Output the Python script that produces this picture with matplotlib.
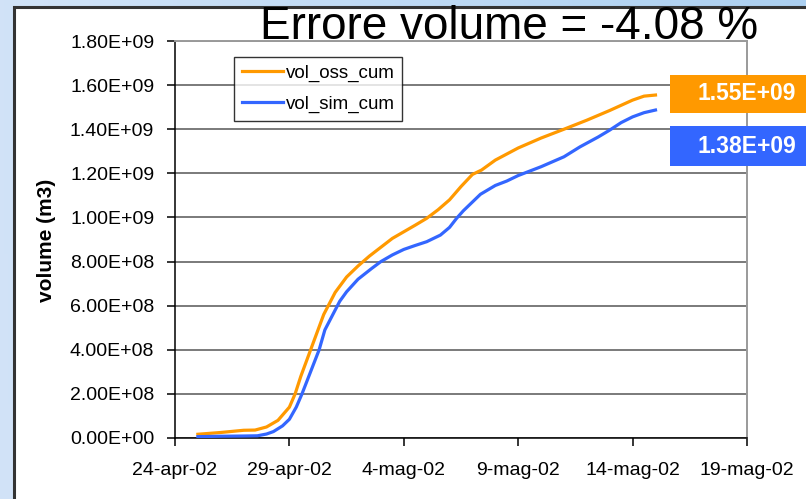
"""Cumulative observed vs simulated volume, with volume error in the title."""

import matplotlib
matplotlib.use("Agg")
import matplotlib.pyplot as plt
import numpy as np
import pandas as pd
from matplotlib.patches import Rectangle

plt.rcParams["font.family"] = ["Liberation Sans", "DejaVu Sans"]

# ── Data ──────────────────────────────────────────────────────────────────────

START = pd.Timestamp("2002-04-24")

# days after 24-apr-02
oss_days = [1, 2, 3, 3.5, 4, 4.5, 5, 5.25, 5.5, 6, 6.5, 7, 7.5, 8, 8.5, 9, 9.5,
            10, 10.5, 11, 11.5, 12, 12.5, 13, 13.4, 14, 15, 16, 17, 18, 19,
            20, 20.5, 21]
vol_oss_cum = [0.017, 0.025, 0.035, 0.036, 0.05, 0.08, 0.14, 0.20, 0.28, 0.42,
               0.56, 0.66, 0.73, 0.78, 0.825, 0.865, 0.905, 0.935, 0.965,
               0.996, 1.035, 1.08, 1.14, 1.195, 1.215, 1.26, 1.315, 1.36,
               1.40, 1.441, 1.485, 1.532, 1.55, 1.555]

sim_days = [1, 2, 3, 3.6, 4, 4.3, 4.7, 5, 5.3, 5.55, 6, 6.3, 6.55, 6.85, 7.2,
            7.5, 8, 8.6, 9, 9.5, 10, 10.5, 11, 11.6, 12, 12.3, 12.6, 12.9,
            13.35, 14, 14.5, 15, 16, 17, 17.7, 18.5, 19, 19.5, 20, 20.5, 21]
vol_sim_cum = [0.006, 0.008, 0.009, 0.010, 0.018, 0.029, 0.055, 0.085, 0.14,
               0.20, 0.32, 0.40, 0.49, 0.55, 0.62, 0.663, 0.72, 0.769, 0.80,
               0.83, 0.855, 0.873, 0.89, 0.92, 0.955, 0.995, 1.03, 1.06,
               1.105, 1.145, 1.165, 1.19, 1.23, 1.275, 1.32, 1.365, 1.396,
               1.43, 1.456, 1.475, 1.487]

tick_days = [0, 5, 10, 15, 20, 25]
tick_labels = ["24-apr-02", "29-apr-02", "4-mag-02", "9-mag-02",
               "14-mag-02", "19-mag-02"]
y_ticks = np.arange(0, 1.81e9, 2e8)

title_text = "Errore volume = -4.08 %"
label_oss = "1.55E+09"
label_sim = "1.38E+09"

ORANGE = "#ff9900"
BLUE = "#3366ff"

# ── Figure ────────────────────────────────────────────────────────────────────

W, H = 806, 499
fig = plt.figure(figsize=(W / 100, H / 100), dpi=100)


def fx(px):
    return px / W


def fy(py):
    return 1 - py / H


# light-blue slide background, a bit stronger towards the top right
bg = fig.add_axes([0, 0, 1, 1], zorder=-10)
gx = np.linspace(0, 1, 200)
gy = np.linspace(0, 1, 100)
grad = np.clip(gx[None, :] * 0.8 * (1 - gy[:, None] * 0.9), 0, 1)
c0 = np.array([0.82, 0.89, 0.97])
c1 = np.array([0.64, 0.80, 0.94])
img = c0 + (c1 - c0) * grad[..., None]
bg.imshow(img, aspect="auto", extent=[0, 1, 0, 1])
bg.set_axis_off()

# white chart panel with dark border
fig.patches.append(Rectangle((fx(14), -0.05), 1.2, fy(7) + 0.05,
                             transform=fig.transFigure, facecolor="white",
                             edgecolor="#333333", linewidth=2.2, zorder=-5))

ax = fig.add_axes([fx(175), fy(438), fx(747) - fx(175), fy(41) - fy(438)])

x_oss = START + pd.to_timedelta(oss_days, unit="D")
x_sim = START + pd.to_timedelta(sim_days, unit="D")
ax.plot(x_oss, np.array(vol_oss_cum) * 1e9,
        color=ORANGE, lw=2.3, label="vol_oss_cum", zorder=3)
ax.plot(x_sim, np.array(vol_sim_cum) * 1e9,
        color=BLUE, lw=2.3, label="vol_sim_cum", zorder=3)

ax.set_xlim(START, START + pd.Timedelta(days=25))
ax.set_ylim(0, 1.8e9)
ax.set_xticks(START + pd.to_timedelta(tick_days, unit="D"))
ax.set_xticklabels(tick_labels)
ax.set_yticks(y_ticks)
ax.set_yticklabels([f"{v:.2E}" for v in y_ticks])

ax.grid(axis="y", color="#7a7a7a", lw=1.4)
ax.set_axisbelow(True)
for side in ("top", "right"):
    ax.spines[side].set_color("#9a9a9a")
    ax.spines[side].set_linewidth(1.4)
for side in ("left", "bottom"):
    ax.spines[side].set_color("black")
    ax.spines[side].set_linewidth(1.1)
ax.tick_params(axis="y", direction="out", length=6, width=1.1, pad=9,
               labelsize=14)
ax.tick_params(axis="x", direction="out", length=6, width=1.1, pad=11,
               labelsize=14)

leg = ax.legend(loc="upper left",
                bbox_to_anchor=((234 - 175) / 572, 1 - 16 / 397),
                fontsize=13.5, frameon=True, fancybox=False, handlelength=2.2,
                handletextpad=0.15, labelspacing=0.75, borderpad=0.4,
                borderaxespad=0)
leg.get_frame().set_edgecolor("black")
leg.get_frame().set_linewidth(1.0)

fig.text(fx(46), fy(240), "volume (m3)", rotation=90, ha="center",
         va="center", fontsize=15, fontweight="bold")

fig.text(fx(509), fy(39), title_text, ha="center", va="baseline",
         fontsize=33)

# value callouts on the right
for (top, bot, colour, text) in ((75, 113, ORANGE, label_oss),
                                 (126, 166, BLUE, label_sim)):
    fig.patches.append(Rectangle((fx(670), fy(bot)), 1 - fx(670),
                                 fy(top) - fy(bot), transform=fig.transFigure,
                                 facecolor=colour, edgecolor="none", zorder=5))
    fig.text(fx(796), fy((top + bot) / 2), text, ha="right", va="center",
             fontsize=16.5, fontweight="bold", color="white", zorder=6)

fig.savefig("out.png", dpi=100)
